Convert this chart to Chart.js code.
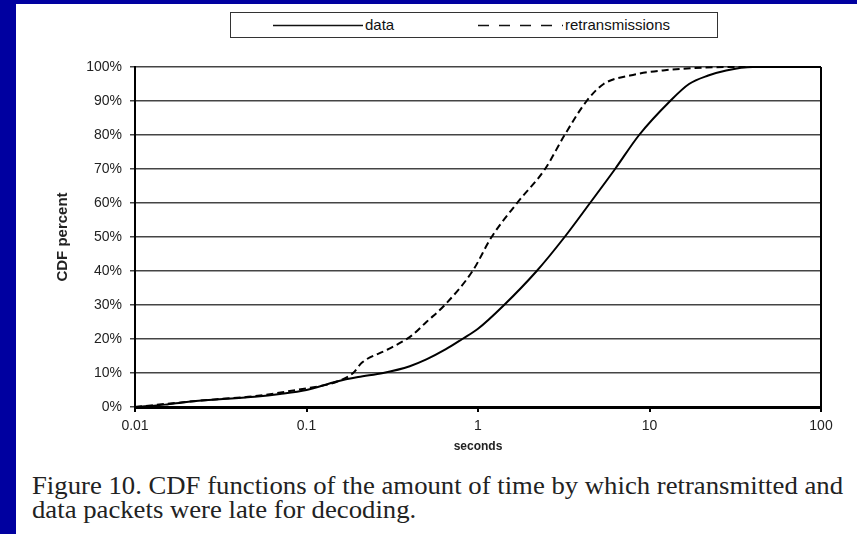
<!DOCTYPE html>
<html>
<head>
<meta charset="utf-8">
<script src="https://cdn.jsdelivr.net/npm/chart.js@4.4.1/dist/chart.umd.min.js"></script>
<style>
    html, body { margin: 0; padding: 0; }
    body { width: 857px; height: 534px; background: #0000a0; position: relative; overflow: hidden; }
    .panel { position: absolute; left: 16px; top: 4px; right: 0; bottom: 0; background: #fff; }
    .chart-box { position: absolute; left: 16px; top: 4px; width: 841px; height: 455px; }
    .legend { position: absolute; left: 230px; top: 12px; width: 486px; height: 24px; border: 1.5px solid #333; background: #fff; font-family: "Liberation Sans", Arial, sans-serif; font-size: 15px; color: #111; }
    .legend svg { position: absolute; left: 0; top: 0; }
    .legend span { position: absolute; top: 3px; line-height: 17px; }
    .caption { position: absolute; left: 32px; font-family: "Liberation Serif", "Times New Roman", serif; font-size: 25px; line-height: 25px; color: #222; white-space: nowrap; transform-origin: 0 0; }
</style>
</head>
<body>
<div class="panel"></div>
<div class="chart-box"><canvas id="cdfChart"></canvas></div>
<div class="legend">
    <svg width="486" height="24">
        <line x1="42" y1="12.5" x2="132" y2="12.5" stroke="#111" stroke-width="1.5"/>
        <line x1="247" y1="12.5" x2="332" y2="12.5" stroke="#111" stroke-width="1.5" stroke-dasharray="11,10"/>
    </svg>
    <span style="left:134px">data</span>
    <span style="left:334px">retransmissions</span>
</div>
<div class="caption" id="cap1" style="top:473px">Figure 10. CDF functions of the amount of time by which retransmitted and</div>
<div class="caption" id="cap2" style="top:497px">data packets were late for decoding.</div>

<script>
// CDF data (seconds -> percent)
const dataSeconds = [0.01, 0.015, 0.02, 0.03, 0.05, 0.07, 0.1, 0.15, 0.2, 0.28, 0.4, 0.5, 0.65, 0.81, 1, 1.42, 2.2, 3.2, 4.5, 6.3, 8.7, 13.2, 17, 22, 28, 40, 100];
const dataPercent = [0, 0.7, 1.5, 2.2, 3, 3.8, 5, 7.5, 8.8, 10, 12, 14, 17, 20, 23, 30, 40, 50, 60, 70, 80, 90, 95, 97.5, 99, 100, 100];

const retxSeconds = [0.01, 0.02, 0.03, 0.05, 0.1, 0.13, 0.16, 0.187, 0.21, 0.3, 0.41, 0.5, 0.64, 0.93, 1.2, 1.69, 2.46, 3.2, 4.3, 5.4, 7.7, 12, 30, 100];
const retxPercent = [0, 1.5, 2.3, 3.2, 5.5, 6.5, 8, 10, 13, 17, 21, 25, 30, 40, 50, 60, 70, 80, 90, 95, 97.5, 99, 100, 100];

const xTicks = [0.01, 0.1, 1, 10, 100];
const yMax = 100;
const yStep = 10;

function toPoints(xs, ys) {
    return xs.map((x, i) => ({ x: x, y: ys[i] }));
}

// right-hand frame line of the plot area
const frameRight = {
    id: 'frameRight',
    afterDraw(chart) {
        const a = chart.chartArea;
        const ctx = chart.ctx;
        ctx.save();
        ctx.strokeStyle = '#000';
        ctx.lineWidth = 2;
        ctx.beginPath();
        ctx.moveTo(a.right, a.top);
        ctx.lineTo(a.right, a.bottom);
        ctx.stroke();
        ctx.restore();
    }
};

const tickFont = { family: '"Liberation Sans", Arial, sans-serif', size: 14 };

new Chart(document.getElementById('cdfChart'), {
    type: 'line',
    data: {
        datasets: [
            {
                label: 'data',
                data: toPoints(dataSeconds, dataPercent),
                borderColor: '#000',
                borderWidth: 2,
                pointRadius: 0,
                cubicInterpolationMode: 'monotone',
                clip: 4
            },
            {
                label: 'retransmissions',
                data: toPoints(retxSeconds, retxPercent),
                borderColor: '#000',
                borderWidth: 2,
                borderDash: [7, 4],
                pointRadius: 0,
                cubicInterpolationMode: 'monotone',
                clip: 4
            }
        ]
    },
    options: {
        responsive: true,
        maintainAspectRatio: false,
        animation: false,
        layout: { padding: { left: 38, right: 36, top: 63, bottom: 5 } },
        plugins: {
            legend: { display: false },
            tooltip: { enabled: false }
        },
        scales: {
            x: {
                type: 'logarithmic',
                min: 0.01,
                max: 100,
                afterBuildTicks: function(scale) {
                    scale.ticks = xTicks.map(v => ({ value: v }));
                },
                afterFit: function(scale) { scale.height = 47; },
                grid: { drawOnChartArea: false, drawTicks: true, tickLength: 5, color: '#000', lineWidth: 2 },
                border: { display: true, color: '#000', width: 3 },
                ticks: {
                    color: '#222',
                    font: tickFont,
                    padding: 6,
                    maxRotation: 0,
                    autoSkip: false,
                    callback: function(value) { return String(value); }
                },
                title: {
                    display: true,
                    text: 'seconds',
                    color: '#222',
                    font: { family: '"Liberation Sans", Arial, sans-serif', size: 12, weight: 'bold' },
                    padding: 0
                }
            },
            y: {
                min: 0,
                max: yMax,
                afterFit: function(scale) { scale.width = 81; },
                grid: { color: '#444', lineWidth: 1.5, tickLength: 5, drawTicks: true },
                border: { display: true, color: '#000', width: 2 },
                ticks: {
                    stepSize: yStep,
                    color: '#222',
                    font: tickFont,
                    padding: 8,
                    callback: function(value) { return value + '%'; }
                },
                title: {
                    display: true,
                    text: 'CDF percent',
                    color: '#222',
                    font: { family: '"Liberation Sans", Arial, sans-serif', size: 15, weight: 'bold' },
                    padding: 0
                }
            }
        }
    },
    plugins: [frameRight]
});

// fit caption lines to the width they have in the figure
const cap1 = document.getElementById('cap1');
const cap2 = document.getElementById('cap2');
const sx = 811 / cap1.getBoundingClientRect().width;
cap1.style.transform = 'scaleX(' + sx + ')';
cap2.style.transform = 'scaleX(' + sx + ')';
</script>
</body>
</html>
